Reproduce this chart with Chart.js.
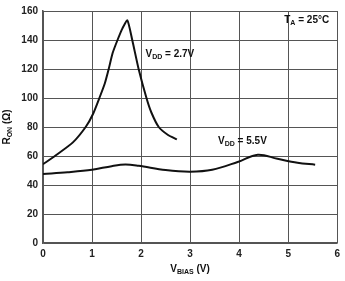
<!DOCTYPE html>
<html>
<head>
<meta charset="utf-8">
<script src="https://cdn.jsdelivr.net/npm/chart.js@4/dist/chart.umd.min.js"></script>
<style>
  html, body { margin: 0; padding: 0; background: #fff; }
  #wrap { width: 345px; height: 281px; position: relative; }
</style>
</head>
<body>
<div id="wrap"><canvas id="ronChart"></canvas></div>
<script>
// R_ON vs V_BIAS
const vdd27X = [0, 0.3, 0.61, 0.87, 1.02, 1.15, 1.26, 1.34, 1.42, 1.52, 1.62, 1.72, 1.82, 1.95, 2.11, 2.21, 2.36, 2.55, 2.73];
const vdd27Y = [54.3, 61.4, 69.4, 80, 89, 100, 110, 120, 131, 140, 148, 153.5, 140, 120, 100, 90, 80, 74.5, 71.5];

const vdd55X = [0, 0.5, 1.0, 1.4, 1.68, 1.95, 2.5, 3.0, 3.45, 3.97, 4.38, 4.78, 5.19, 5.55];
const vdd55Y = [47.6, 48.8, 50.5, 53, 54.1, 53.2, 50.3, 49.2, 50.5, 55.9, 60.9, 58.1, 55.4, 54];

const xTicks = [0, 1, 2, 3, 4, 5, 6];
const yTicks = [0, 20, 40, 60, 80, 100, 120, 140, 160];

const FONT = '"Liberation Sans", Arial, sans-serif';

// draws text with subscript pieces: [[text, isSub], ...]
function drawSubText(ctx, parts, x, y, size) {
  let cx = x;
  parts.forEach(p => {
    const sub = p[1];
    ctx.font = 'bold ' + (sub ? size - 3 : size) + 'px ' + FONT;
    ctx.fillText(p[0], cx, sub ? y + 3 : y);
    cx += ctx.measureText(p[0]).width;
  });
  return cx - x;
}

function measureSubText(ctx, parts, size) {
  let w = 0;
  parts.forEach(p => {
    ctx.font = 'bold ' + (p[1] ? size - 3 : size) + 'px ' + FONT;
    w += ctx.measureText(p[0]).width;
  });
  return w;
}

const labelsPlugin = {
  id: 'labels',
  afterDraw(chart) {
    const ctx = chart.ctx;
    const xs = chart.scales.x, ys = chart.scales.y;
    const area = chart.chartArea;
    ctx.save();
    ctx.fillStyle = '#111';
    ctx.textBaseline = 'middle';
    ctx.textAlign = 'left';

    drawSubText(ctx, [['V', false], ['DD', true], [' = 2.7V', false]],
      xs.getPixelForValue(2.09), ys.getPixelForValue(130.3), 10);
    drawSubText(ctx, [['V', false], ['DD', true], [' = 5.5V', false]],
      xs.getPixelForValue(3.57), ys.getPixelForValue(70.1), 10);
    drawSubText(ctx, [['T', false], ['A', true], [' = 25°C', false]],
      xs.getPixelForValue(4.92), ys.getPixelForValue(153.5), 10);

    // x axis title
    const xt = [['V', false], ['BIAS', true], [' (V)', false]];
    const xw = measureSubText(ctx, xt, 10);
    drawSubText(ctx, xt, (area.left + area.right) / 2 - xw / 2, 269, 10);

    // y axis title (rotated)
    const yt = [['R', false], ['ON', true], [' (Ω)', false]];
    const yw = measureSubText(ctx, yt, 10);
    ctx.translate(7, (area.top + area.bottom) / 2);
    ctx.rotate(-Math.PI / 2);
    drawSubText(ctx, yt, -yw / 2, 0, 10);
    ctx.restore();
  }
};

new Chart(document.getElementById('ronChart'), {
  type: 'line',
  data: {
    datasets: [
      {
        label: 'VDD = 2.7V',
        data: vdd27X.map((x, i) => ({ x: x, y: vdd27Y[i] })),
        borderColor: '#111',
        borderWidth: 2,
        pointRadius: 0,
        tension: 0.2
      },
      {
        label: 'VDD = 5.5V',
        data: vdd55X.map((x, i) => ({ x: x, y: vdd55Y[i] })),
        borderColor: '#111',
        borderWidth: 2,
        pointRadius: 0,
        tension: 0.35
      }
    ]
  },
  options: {
    responsive: true,
    maintainAspectRatio: false,
    animation: false,
    layout: { padding: { top: 6, right: 1, left: 0, bottom: 0 } },
    plugins: {
      legend: { display: false },
      tooltip: { enabled: false }
    },
    scales: {
      x: {
        type: 'linear',
        min: 0,
        max: 6,
        afterBuildTicks: s => { s.ticks = xTicks.map(v => ({ value: v })); },
        afterFit: s => { s.height = 38; },
        ticks: {
          color: '#222',
          font: { family: FONT, size: 10, weight: 'bold' },
          padding: 5,
          maxRotation: 0
        },
        grid: { color: '#555', lineWidth: 1, drawTicks: false },
        border: { color: '#555', width: 1.5 }
      },
      y: {
        min: 0,
        max: 160,
        afterBuildTicks: s => { s.ticks = yTicks.map(v => ({ value: v })); },
        afterFit: s => { s.width = 43; },
        ticks: {
          color: '#222',
          font: { family: FONT, size: 10, weight: 'bold' },
          padding: 5
        },
        grid: { color: '#555', lineWidth: 1, drawTicks: false },
        border: { color: '#555', width: 1.5 }
      }
    }
  },
  plugins: [labelsPlugin]
});
</script>
</body>
</html>
